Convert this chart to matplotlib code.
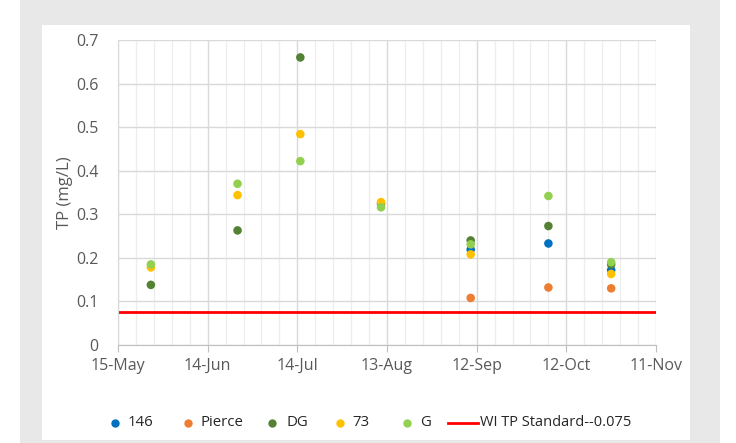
import matplotlib
matplotlib.use("Agg")
import matplotlib.pyplot as plt
import matplotlib.dates as mdates
from matplotlib.patches import Rectangle
from matplotlib.lines import Line2D
import numpy as np
import datetime as dt

nan = np.nan
dates = ["2019-05-26", "2019-06-24", "2019-07-15", "2019-08-11",
         "2019-09-10", "2019-10-06", "2019-10-27"]
s146 = [nan, nan, nan, nan, 0.219, 0.233, 0.172]
pierce = [nan, nan, nan, nan, 0.108, 0.132, 0.130]
dg = [0.138, 0.263, 0.660, 0.324, 0.240, 0.273, 0.185]
s73 = [0.178, 0.344, 0.484, 0.328, 0.208, nan, 0.163]
g = [0.185, 0.370, 0.422, 0.316, 0.231, 0.342, 0.190]
standard = 0.075
series_names = ["146", "Pierce", "DG", "73", "G"]
standard_label = "WI TP Standard--0.075"
xtick_labels = ["15-May", "14-Jun", "14-Jul", "13-Aug", "12-Sep", "12-Oct", "11-Nov"]

colors = ["#0070C0", "#ED7D31", "#548235", "#FFC000", "#92D050"]
txt = "#595959"

plt.rcParams['font.family'] = ['Open Sans', 'DejaVu Sans']

fig = plt.figure(figsize=(7.36, 4.43), dpi=100)
W, H = 736, 443
fig.patches.append(Rectangle((20 / W, 0), (720 - 20) / W, 1, transform=fig.transFigure,
                             facecolor="#E8E8E8", edgecolor="none", zorder=-2))
fig.patches.append(Rectangle((42 / W, 1 - 440 / H), (690 - 42) / W, (440 - 25) / H,
                             transform=fig.transFigure, facecolor="white",
                             edgecolor="none", zorder=-1))

L, R, T, B = 118, 656, 40, 345
ax = fig.add_axes([L / W, 1 - B / H, (R - L) / W, (B - T) / H])
ax.set_facecolor("none")

x = [dt.datetime.strptime(d, "%Y-%m-%d") for d in dates]
start = dt.datetime(2019, 5, 15)
end = dt.datetime(2019, 11, 11)

for vals, name, c in zip([s146, pierce, dg, s73, g], series_names, colors):
    ax.scatter(x, vals, s=38, color=c, zorder=3, edgecolors="none", label=name)

ax.axhline(standard, color="#FF0000", lw=2, zorder=2.5, label=standard_label)

ax.set_xlim(mdates.date2num(start), mdates.date2num(end))
ax.set_ylim(0, 0.7)

major = [start + dt.timedelta(days=30 * i) for i in range(7)]
minor = [start + dt.timedelta(days=6 * i) for i in range(31)]
ax.set_xticks(major)
ax.set_xticklabels(xtick_labels)
ax.set_xticks(minor, minor=True)
ax.set_yticks(np.arange(0, 0.71, 0.1))
ax.set_yticklabels(["0", "0.1", "0.2", "0.3", "0.4", "0.5", "0.6", "0.7"])

ax.grid(True, which="major", color="#D9D9D9", lw=1.0, zorder=0)
ax.grid(True, which="minor", axis="x", color="#EDEDED", lw=0.9, zorder=0)
for s in ["top", "right"]:
    ax.spines[s].set_visible(False)
ax.spines["left"].set_color("#D9D9D9")
ax.spines["bottom"].set_color("#BFBFBF")
ax.tick_params(axis="x", which="major", length=5, color="#BFBFBF", labelsize=11.5,
               labelcolor=txt, pad=4)
ax.tick_params(axis="x", which="minor", length=0)
ax.tick_params(axis="y", length=0, labelsize=11.5, labelcolor=txt, pad=14)
ax.set_ylabel("TP (mg/L)", color=txt, fontsize=12, labelpad=2)

# legend drawn manually (layout positions in pixels)
leg_y = 1 - 423 / H
marker_px = [115, 188, 272, 340, 407]
text_px = [128, 201, 287, 352, 420]
for name, c, mx, tx in zip(series_names, colors, marker_px, text_px):
    fig.add_artist(Line2D([mx / W], [leg_y], marker="o", ls="none", color=c,
                          markersize=5, transform=fig.transFigure))
    fig.text(tx / W, leg_y, name, ha="left", va="center", fontsize=10.8,
             color="#262626")
fig.add_artist(Line2D([448 / W, 478 / W], [leg_y, leg_y], color="#FF0000", lw=2,
                      transform=fig.transFigure))
fig.text(480 / W, leg_y, standard_label, ha="left", va="center", fontsize=10.5,
         color="#262626")

fig.savefig("out.png", dpi=100)
